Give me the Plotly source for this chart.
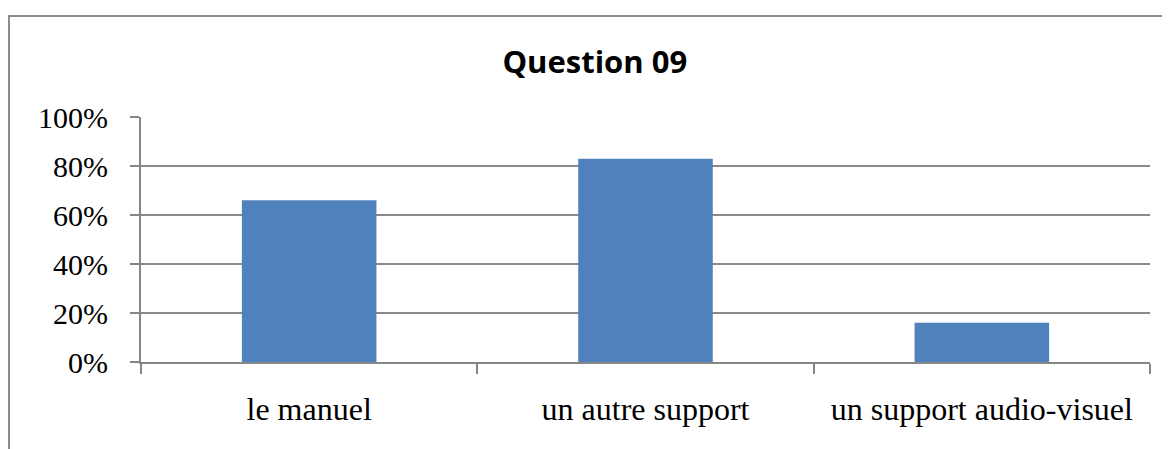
import plotly.graph_objects as go

categories = ["le manuel", "un autre support", "un support audio-visuel"]
values = [0.66, 0.83, 0.16]
y_ticks = [0, 0.2, 0.4, 0.6, 0.8, 1.0]
y_tick_labels = ["0%", "20%", "40%", "60%", "80%", "100%"]

fig = go.Figure()

fig.add_trace(go.Bar(
    x=categories,
    y=values,
    marker=dict(color="#4f81bd", line=dict(width=0)),
    width=0.4,
    showlegend=False,
))

# outer chart border (runs past the right and bottom of the picture)
fig.add_shape(
    type="rect", xref="paper", yref="paper",
    x0=-0.1308, x1=1.1, y0=-0.5, y1=1.412,
    line=dict(color="#8c8c8c", width=2),
    fillcolor="rgba(0,0,0,0)", layer="below",
)

# page body has an 8px margin, so the figure is sized/offset for it
fig.update_layout(
    width=1162, height=441,
    margin=dict(l=133, r=20, t=109, b=87),
    paper_bgcolor="white",
    plot_bgcolor="white",
    title=dict(
        text="<b>Question 09</b>",
        x=0.505, xanchor="center",
        y=0.877, yanchor="middle",
        font=dict(family="Open Sans", size=31, color="black"),
    ),
    bargap=0.6,
)

fig.update_xaxes(
    showgrid=False,
    showline=True, linecolor="#868686", linewidth=2,
    ticks="outside", tickson="boundaries", ticklen=10,
    tickcolor="#868686", tickwidth=2,
    ticklabelstandoff=18,
    tickfont=dict(family="Liberation Serif", size=32, color="black"),
    zeroline=False,
    automargin=False,
)

fig.update_yaxes(
    range=[0, 1.0],
    tickvals=y_ticks, ticktext=y_tick_labels,
    showgrid=True, gridcolor="#8a8a8a", gridwidth=2,
    showline=True, linecolor="#868686", linewidth=2,
    ticks="outside", ticklen=9, tickcolor="#868686", tickwidth=2,
    ticklabelstandoff=16,
    tickfont=dict(family="Liberation Serif", size=30, color="black"),
    zeroline=False,
    automargin=False,
)

fig.write_html("out.html")
